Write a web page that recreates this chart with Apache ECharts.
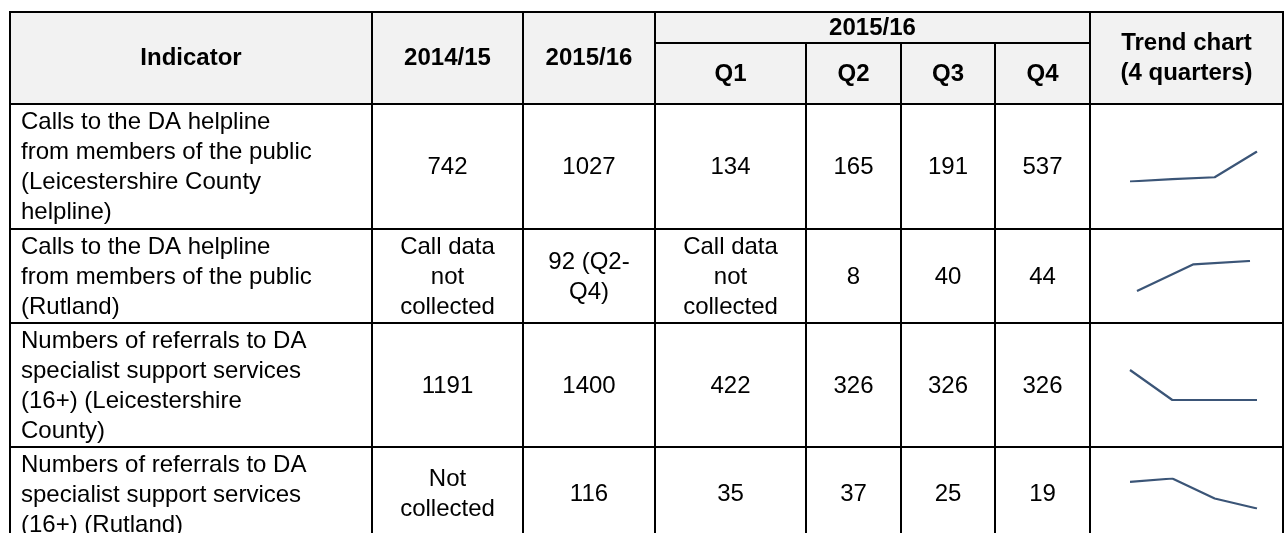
<!DOCTYPE html>
<html>
<head>
<meta charset="utf-8">
<script src="https://cdn.jsdelivr.net/npm/echarts@6/dist/echarts.min.js"></script>
<style>
  html, body { margin: 0; padding: 0; background: #fff; }
  #chart { width: 1284px; height: 533px; }
</style>
</head>
<body>
<div id="chart"></div>
<script>
// table content
const headers = ['Indicator', '2014/15', '2015/16', 'Q1', 'Q2', 'Q3', 'Q4', 'Trend chart\n(4 quarters)'];
const groupHeader = '2015/16';
const indicators = [
  'Calls to the DA helpline\nfrom members of the public\n(Leicestershire County\nhelpline)',
  'Calls to the DA helpline\nfrom members of the public\n(Rutland)',
  'Numbers of referrals to DA\nspecialist support services\n(16+) (Leicestershire\nCounty)',
  'Numbers of referrals to DA\nspecialist support services\n(16+) (Rutland)'
];
const year1415 = ['742', 'Call data\nnot\ncollected', '1191', 'Not\ncollected'];
const year1516 = ['1027', '92 (Q2-\nQ4)', '1400', '116'];
const q1 = [134, 'Call data\nnot\ncollected', 422, 35];
const q2 = [165, 8, 326, 37];
const q3 = [191, 40, 326, 25];
const q4 = [537, 44, 326, 19];

// layout
const colX = [10, 372, 523, 655, 806, 901, 995, 1090, 1283];
const rowY = [12, 104, 229, 323, 447, 540];
const subY = 43;
const FONT = '"Liberation Sans", Arial, sans-serif';
const FS = 24;
const LH = 30;

const chart = echarts.init(document.getElementById('chart'));

const graphics = [];
// header background
graphics.push({ type: 'rect', shape: { x: colX[0], y: rowY[0], width: colX[8] - colX[0], height: rowY[1] - rowY[0] }, style: { fill: '#f2f2f2' }, z: 0 });

function txt(s, x, y, opts) {
  opts = opts || {};
  graphics.push({
    type: 'text', z: 5,
    style: {
      text: s, x: x, y: y,
      fill: '#000',
      font: (opts.bold ? 'bold ' : '') + FS + 'px ' + FONT,
      lineHeight: LH,
      align: opts.align || 'center',
      verticalAlign: opts.valign || 'middle',
      textAlign: opts.align || 'center',
      textVerticalAlign: opts.valign || 'middle'
    }
  });
}

// header texts
const midHead = (rowY[0] + rowY[1]) / 2;
[0, 1, 2, 7].forEach(c => txt(headers[c], (colX[c] + colX[c + 1]) / 2, midHead, { bold: true }));
txt(groupHeader, (colX[3] + colX[7]) / 2, (rowY[0] + subY) / 2 + 1, { bold: true });
[3, 4, 5, 6].forEach(c => txt(headers[c], (colX[c] + colX[c + 1]) / 2, (subY + rowY[1]) / 2 + 1, { bold: true }));

// body texts
const cols = [year1415, year1516, q1, q2, q3, q4];
indicators.forEach((ind, r) => {
  const top = rowY[r + 1], bot = rowY[r + 2];
  const mid = (top + bot) / 2;
  txt(ind, colX[0] + 11, top + 3, { align: 'left', valign: 'top' });
  cols.forEach((col, k) => {
    const c = k + 1;
    txt(String(col[r]), (colX[c] + colX[c + 1]) / 2, mid + 1);
  });
});

// borders
const LW = 2;
function line(x1, y1, x2, y2) {
  graphics.push({ type: 'line', z: 10, shape: { x1: x1, y1: y1, x2: x2, y2: y2 }, style: { stroke: '#000', lineWidth: LW } });
}
rowY.forEach(y => line(colX[0] - 1, y, colX[8] + 1, y));
line(colX[3], subY, colX[7], subY);
colX.forEach((x, i) => {
  const startY = (i >= 4 && i <= 6) ? subY : rowY[0];
  line(x, startY, x, rowY[rowY.length - 1]);
});

// sparklines
const grids = [], xAxes = [], yAxes = [], series = [];
indicators.forEach((ind, r) => {
  const vals = [q1[r], q2[r], q3[r], q4[r]].filter(v => typeof v === 'number');
  const mid = (rowY[r + 1] + rowY[r + 2]) / 2;
  const span = vals.length === 4 ? 127 : 113;
  const cx = 1193.5;
  grids.push({ left: cx - span / 2, width: span, top: mid - 15, height: 30 });
  xAxes.push({ type: 'category', gridIndex: r, data: vals.map((v, i) => i), boundaryGap: false, show: false });
  yAxes.push({ type: 'value', gridIndex: r, min: 'dataMin', max: 'dataMax', show: false });
  series.push({
    type: 'line', xAxisIndex: r, yAxisIndex: r, data: vals,
    symbol: 'none', silent: true, animation: false,
    lineStyle: { color: '#3b5577', width: 2.2 }
  });
});

chart.setOption({
  animation: false,
  grid: grids,
  xAxis: xAxes,
  yAxis: yAxes,
  series: series,
  graphic: graphics
});
</script>
</body>
</html>
